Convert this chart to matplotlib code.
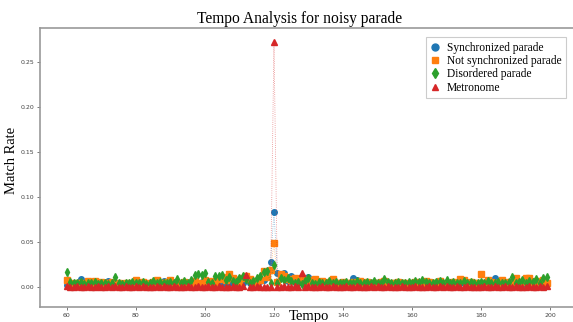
import matplotlib
matplotlib.use("Agg")
import matplotlib.pyplot as plt

tempos = list(range(60, 200))

synchronized = [
    0.002, 0.001, 0.003, 0.004, 0.009, 0.002, 0.003, 0.004, 0.002, 0.005,
    0.003, 0.004, 0.007, 0.002, 0.003, 0.001, 0.004, 0.003, 0.002, 0.005,
    0.006, 0.003, 0.004, 0.002, 0.003, 0.004, 0.005, 0.002, 0.007, 0.004,
    0.003, 0.002, 0.004, 0.003, 0.006, 0.005, 0.004, 0.003, 0.002, 0.006,
    0.004, 0.003, 0.007, 0.005, 0.004, 0.006, 0.003, 0.005, 0.004, 0.006,
    0.009, 0.005, 0.010, 0.004, 0.006, 0.005, 0.007, 0.008, 0.013, 0.028,
    0.083, 0.016, 0.011, 0.016, 0.007, 0.012, 0.006, 0.005, 0.009, 0.004,
    0.011, 0.005, 0.003, 0.004, 0.006, 0.003, 0.005, 0.004, 0.003, 0.005,
    0.006, 0.004, 0.005, 0.010, 0.008, 0.006, 0.004, 0.003, 0.005, 0.006,
    0.004, 0.002, 0.003, 0.004, 0.002, 0.003, 0.005, 0.004, 0.003, 0.002,
    0.005, 0.003, 0.004, 0.002, 0.006, 0.003, 0.004, 0.005, 0.003, 0.002,
    0.004, 0.003, 0.005, 0.002, 0.004, 0.006, 0.003, 0.004, 0.002, 0.003,
    0.005, 0.003, 0.004, 0.002, 0.010, 0.003, 0.004, 0.002, 0.005, 0.003,
    0.004, 0.002, 0.003, 0.004, 0.002, 0.003, 0.004, 0.005, 0.002, 0.004,
]

not_synchronized = [
    0.008, 0.005, 0.003, 0.005, 0.004, 0.003, 0.007, 0.005, 0.007, 0.004,
    0.006, 0.005, 0.004, 0.006, 0.003, 0.004, 0.002, 0.005, 0.003, 0.004,
    0.008, 0.005, 0.006, 0.004, 0.003, 0.006, 0.008, 0.005, 0.004, 0.006,
    0.008, 0.004, 0.005, 0.003, 0.006, 0.004, 0.005, 0.007, 0.004, 0.003,
    0.008, 0.005, 0.007, 0.006, 0.009, 0.011, 0.008, 0.014, 0.010, 0.008,
    0.005, 0.010, 0.012, 0.009, 0.007, 0.006, 0.008, 0.018, 0.011, 0.019,
    0.049, 0.006, 0.015, 0.012, 0.009, 0.008, 0.010, 0.007, 0.010, 0.006,
    0.008, 0.006, 0.009, 0.005, 0.007, 0.004, 0.006, 0.009, 0.005, 0.004,
    0.006, 0.005, 0.004, 0.006, 0.005, 0.007, 0.004, 0.006, 0.003, 0.005,
    0.004, 0.006, 0.007, 0.003, 0.005, 0.004, 0.006, 0.005, 0.004, 0.003,
    0.004, 0.006, 0.005, 0.003, 0.007, 0.006, 0.004, 0.005, 0.007, 0.004,
    0.003, 0.005, 0.006, 0.004, 0.009, 0.008, 0.005, 0.006, 0.004, 0.005,
    0.014, 0.005, 0.008, 0.006, 0.004, 0.005, 0.008, 0.004, 0.006, 0.004,
    0.010, 0.005, 0.006, 0.010, 0.010, 0.004, 0.007, 0.006, 0.008, 0.005,
]

disordered = [
    0.017, 0.006, 0.004, 0.005, 0.006, 0.003, 0.005, 0.004, 0.006, 0.003,
    0.004, 0.005, 0.003, 0.005, 0.011, 0.004, 0.003, 0.005, 0.004, 0.006,
    0.005, 0.004, 0.006, 0.003, 0.005, 0.007, 0.004, 0.006, 0.005, 0.004,
    0.006, 0.005, 0.009, 0.004, 0.007, 0.005, 0.008, 0.013, 0.014, 0.013,
    0.016, 0.006, 0.004, 0.012, 0.012, 0.013, 0.008, 0.011, 0.007, 0.006,
    0.010, 0.012, 0.009, 0.005, 0.007, 0.010, 0.012, 0.017, 0.018, 0.005,
    0.025, 0.005, 0.010, 0.008, 0.010, 0.007, 0.004, 0.006, 0.003, 0.007,
    0.010, 0.005, 0.003, 0.006, 0.004, 0.005, 0.007, 0.004, 0.006, 0.005,
    0.004, 0.006, 0.005, 0.004, 0.007, 0.005, 0.004, 0.006, 0.005, 0.007,
    0.005, 0.004, 0.009, 0.006, 0.005, 0.004, 0.006, 0.005, 0.004, 0.006,
    0.005, 0.007, 0.006, 0.008, 0.006, 0.005, 0.004, 0.006, 0.007, 0.004,
    0.008, 0.005, 0.006, 0.005, 0.004, 0.007, 0.005, 0.006, 0.004, 0.005,
    0.006, 0.005, 0.007, 0.004, 0.005, 0.006, 0.004, 0.005, 0.006, 0.011,
    0.005, 0.006, 0.008, 0.005, 0.007, 0.006, 0.009, 0.005, 0.010, 0.011,
]

metronome = [
    0.001, 0.000, 0.000, 0.001, 0.000, 0.000, 0.001, 0.000, 0.000, 0.001,
    0.000, 0.000, 0.001, 0.000, 0.001, 0.000, 0.000, 0.001, 0.000, 0.000,
    0.001, 0.000, 0.001, 0.000, 0.000, 0.000, 0.001, 0.000, 0.001, 0.000,
    0.000, 0.001, 0.000, 0.000, 0.000, 0.001, 0.000, 0.000, 0.001, 0.000,
    0.000, 0.001, 0.000, 0.000, 0.001, 0.000, 0.000, 0.000, 0.001, 0.000,
    0.000, 0.001, 0.013, 0.000, 0.000, 0.001, 0.000, 0.000, 0.000, 0.000,
    0.272, 0.000, 0.000, 0.001, 0.000, 0.000, 0.001, 0.000, 0.016, 0.000,
    0.001, 0.000, 0.000, 0.000, 0.001, 0.000, 0.000, 0.001, 0.000, 0.000,
    0.000, 0.001, 0.000, 0.000, 0.001, 0.000, 0.000, 0.000, 0.001, 0.000,
    0.001, 0.000, 0.000, 0.001, 0.000, 0.000, 0.000, 0.001, 0.000, 0.000,
    0.000, 0.001, 0.000, 0.000, 0.000, 0.001, 0.000, 0.000, 0.001, 0.000,
    0.001, 0.000, 0.000, 0.001, 0.000, 0.000, 0.001, 0.000, 0.000, 0.000,
    0.000, 0.001, 0.000, 0.000, 0.001, 0.000, 0.000, 0.001, 0.000, 0.000,
    0.001, 0.000, 0.000, 0.000, 0.001, 0.000, 0.000, 0.001, 0.000, 0.001,
]

series_labels = ["Synchronized parade", "Not synchronized parade",
                 "Disordered parade", "Metronome"]
x_ticks = [60, 80, 100, 120, 140, 160, 180, 200]
y_ticks = [0.00, 0.05, 0.10, 0.15, 0.20, 0.25]

W, H = 573, 322
fig = plt.figure(figsize=(W / 100, H / 100), dpi=100)
ax = fig.add_axes([40 / W, 1 - 307 / H, (578 - 40) / W, (307 - 28) / H])

colors = ["#1f77b4", "#ff7f0e", "#2ca02c", "#d62728"]
markers = ["o", "s", "d", "^"]
for vals, lab, c, m in zip([synchronized, not_synchronized, disordered, metronome],
                           series_labels, colors, markers):
    ax.plot(tempos, vals, linestyle=":", linewidth=0.6, color=c, alpha=0.55)
    ax.plot(tempos, vals, linestyle="", color=c, marker=m, markersize=4,
            label=lab)

ax.set_xlim(52.2, 208.1)
ax.set_ylim(-0.0222, 0.2878)
ax.set_xticks(x_ticks)
ax.set_yticks(y_ticks)
ax.set_xticklabels([str(t) for t in x_ticks])
ax.set_yticklabels([f"{t:.2f}" for t in y_ticks])
ax.tick_params(labelsize=4.5, length=2, width=0.5, colors="#444444", pad=2)
for s in ax.spines.values():
    s.set_color("#999999")
    s.set_linewidth(1.2)

serif = ["Liberation Serif", "DejaVu Serif"]
fig.text(300 / W, 1 - 23 / H, "Tempo Analysis for noisy parade", ha="center",
         va="baseline", fontsize=11.2, family=serif)
fig.text(309 / W, 1 - 310 / H, "Tempo", ha="center", va="top", fontsize=10.5,
         family=serif)
fig.text(12 / W, 1 - 160 / H, "Match Rate", ha="center", va="center",
         rotation=90, fontsize=10.5, family=serif)

leg = ax.legend(loc="upper left", bbox_to_anchor=(426 / W, 1 - 37 / H),
                bbox_transform=fig.transFigure, prop={"family": serif, "size": 8.3},
                frameon=True, fancybox=False, framealpha=1, edgecolor="#cccccc",
                handlelength=0.8, handletextpad=0.6, borderpad=0.4,
                labelspacing=0.12, markerscale=1.25, borderaxespad=0)
leg.get_frame().set_linewidth(0.8)

fig.savefig("out.png", dpi=100)
